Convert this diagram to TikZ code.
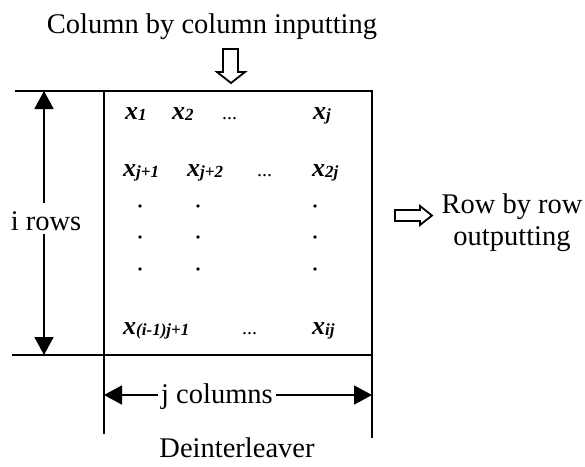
\documentclass[tikz,border=0pt]{standalone}
\usepackage{fontspec}
\setmainfont{Liberation Serif}
\usetikzlibrary{arrows.meta}
\newcommand\bigtxt{\fontsize{28.5}{32}\selectfont}
\newcommand\ent[1]{{\fontsize{26}{26}\selectfont\bfseries\itshape x}\raisebox{-0.4ex}{\fontsize{17}{18}\selectfont\bfseries\itshape #1}}
\newcommand\hdots{{\fontsize{20}{20}\selectfont ...}}
\tikzset{
  lbl/.style={font=\bigtxt, inner sep=0pt, anchor=base},
  cell/.style={inner sep=0pt, anchor=base west},
  frame/.style={line width=2.2pt},
  dimarr/.style={line width=1.8pt, -{Triangle[length=18pt,width=19pt]}},
  hollow/.style={line width=1.8pt, fill=white, line join=miter},
  vdot/.style={fill=black, circle, inner sep=0pt, minimum size=3.6pt}
}
\begin{document}
\begin{tikzpicture}[x=1pt,y=-1pt]
\useasboundingbox (0,0) rectangle (585,466);
% texts
\node[lbl] (title) at (212,33) {Column by column inputting};
\node[lbl] (irows) at (46,230) {i rows};
\node[lbl] (jcols) at (217,403) {j columns};
\node[lbl] (deint) at (237,457) {Deinterleaver};
\node[lbl] (rowby) at (512,213) {Row by row};
\node[lbl] (outp) at (512,245) {outputting};
% frame lines
\coordinate (tl) at (15,91);
\coordinate (tr) at (373,91);
\coordinate (bl) at (12,355);
\coordinate (br) at (373,355);
\coordinate (lt) at (104,91);
\coordinate (lb) at (104,434);
\coordinate (rt) at (372,91);
\coordinate (rb) at (372,438);
\draw[frame] (tl) -- (tr);
\draw[frame] (bl) -- (br);
\draw[frame] (lt) -- (lb);
\draw[frame] (rt) -- (rb);
% i rows arrow
\coordinate (atop) at (44,91);
\coordinate (abot) at (44,355);
\coordinate (agap1) at (44,203);
\coordinate (agap2) at (44,234);
\draw[dimarr] (agap1) -- (atop);
\draw[dimarr] (agap2) -- (abot);
% j columns arrow
\coordinate (jl) at (104,395);
\coordinate (jr) at (372,395);
\draw[dimarr] (jcols.west |- jl) ++(-3,0) coordinate (jg1) -- (jl);
\draw[dimarr] (jcols.east |- jr) ++(3,0) coordinate (jg2) -- (jr);
% hollow arrows
\draw[hollow] (223,49) coordinate (din) -- (238,49) -- (238,72) -- (245,72) -- (231,83) -- (217,72) -- (223,72) -- cycle;
\draw[hollow] (395,210) coordinate (rout) -- (420,210) -- (420,206) -- (432,215.5) -- (420,225) -- (420,221) -- (395,221) -- cycle;
% matrix entries
\node[cell] (x1) at (125,119) {\ent{1}};
\node[cell] (x2) at (172,119) {\ent{2}};
\node[cell] (d1) at (222,119) {\hdots};
\node[cell] (xj) at (313,119) {\ent{j}};
\node[cell] (xj1) at (123,176) {\ent{j+1}};
\node[cell] (xj2) at (187,176) {\ent{j+2}};
\node[cell] (d2) at (257,176) {\hdots};
\node[cell] (x2j) at (312,176) {\ent{2j}};
\foreach \yy [count=\k] in {206,237,269}{
  \node[vdot] (va\k) at (140,\yy) {};
  \node[vdot] (vb\k) at (198,\yy) {};
  \node[vdot] (vc\k) at (315,\yy) {};
}
\node[cell] (xl) at (123,334) {\ent{(i-1)j+1}};
\node[cell] (d3) at (242,334) {\hdots};
\node[cell] (xij) at (312,334) {\ent{ij}};
\end{tikzpicture}
\end{document}
